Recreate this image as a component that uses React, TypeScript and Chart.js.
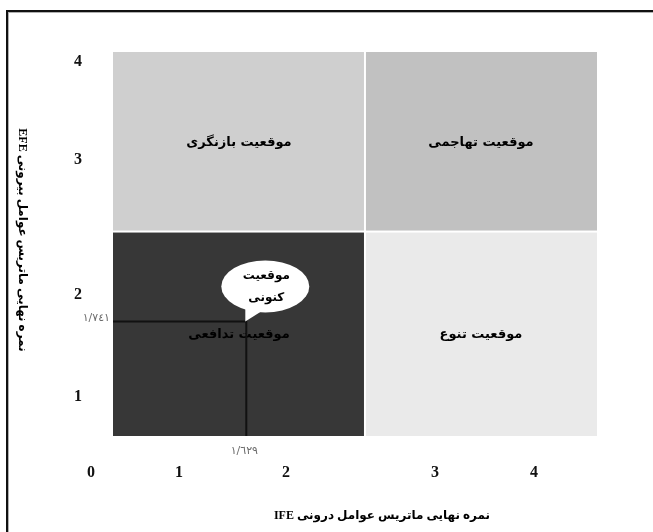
import React, { useEffect, useRef } from 'react';
import { Chart, registerables, LinearScale } from 'chart.js';

// ---- data ----
const xTickValues = [0, 1, 2, 3, 4];
const xTickLabels = ['0', '1', '2', '3', '4'];
const yTickValues = [1, 2, 3, 4];
const yTickLabels = ['1', '2', '3', '4'];
const quadrantXBounds = [0.25, 2.53, 4.64];
const quadrantYBounds = [0.62, 2.47, 4.1];
// order: top-left, top-right, bottom-left, bottom-right
const quadrantNames = ['موقعیت بازنگری', 'موقعیت تهاجمی', 'موقعیت تدافعی', 'موقعیت تنوع'];
const quadrantColors = ['#cfcfcf', '#c1c1c1', '#373737', '#eaeaea'];
const ifeScore = 1.629;
const efeScore = 1.741;
const ifeLabel = '١/٦٢٩';
const efeLabel = '١/٧٤١';
const calloutLines = ['موقعیت', 'کنونی'];
const xTitle = 'نمره نهایی ماتریس عوامل درونی IFE';
const yTitle = 'نمره نهایی ماتریس عوامل بیرونی EFE';

// ---- non-uniform (hand-drawn) axis spacing ----
const axisSpacing: Record<string, { knots: number[]; gaps: number[] }> = {
  x: { knots: [0, 1, 2, 3, 4, 4.64], gaps: [88, 107, 149, 99, 63] },
  y: { knots: [0.62, 1, 2, 3, 4, 4.1], gaps: [39, 102, 135, 98, 10] },
};

class PiecewiseScale extends LinearScale {
  static id = 'piecewise';
  static defaults = {};
  _spec() {
    return axisSpacing[(this as any).id];
  }
  _frac(v: number): number {
    const { knots, gaps } = this._spec();
    const cum = [0];
    for (const g of gaps) cum.push(cum[cum.length - 1] + g);
    const total = cum[cum.length - 1];
    let i = 0;
    if (v <= knots[0]) i = 0;
    else if (v >= knots[knots.length - 1]) i = knots.length - 2;
    else {
      while (i < knots.length - 2 && v > knots[i + 1]) i++;
    }
    const t = (v - knots[i]) / (knots[i + 1] - knots[i]);
    return (cum[i] + t * gaps[i]) / total;
  }
  getPixelForValue(value: number) {
    return (this as any).getPixelForDecimal(this._frac(value));
  }
  getValueForPixel(pixel: number) {
    const { knots, gaps } = this._spec();
    const d = (this as any).getDecimalForPixel(pixel);
    const cum = [0];
    for (const g of gaps) cum.push(cum[cum.length - 1] + g);
    const total = cum[cum.length - 1];
    const p = d * total;
    let i = 0;
    while (i < gaps.length - 1 && p > cum[i + 1]) i++;
    return knots[i] + ((p - cum[i]) / gaps[i]) * (knots[i + 1] - knots[i]);
  }
}

Chart.register(...registerables, PiecewiseScale as any);

const PERSIAN = '"DejaVu Sans", sans-serif';
const MIXED = '"Liberation Serif", "DejaVu Sans", serif';
const SERIF = '"Liberation Serif", serif';

const decorPlugin = {
  id: 'matrixDecor',
  beforeDraw(chart: any) {
    const ctx = chart.ctx;
    ctx.save();
    ctx.fillStyle = '#ffffff';
    ctx.fillRect(0, 0, chart.width, chart.height);
    ctx.fillStyle = '#111111';
    ctx.fillRect(6, 10, chart.width, 2);
    ctx.fillRect(6, 10, 2, chart.height);
    ctx.fillStyle = '#b0b0b0';
    ctx.fillRect(8, 12, chart.width, 1);
    ctx.fillRect(8, 12, 1, chart.height);
    ctx.restore();
  },
  beforeDatasetsDraw(chart: any) {
    const ctx = chart.ctx;
    const xs = chart.scales.x;
    const ys = chart.scales.y;
    const px = quadrantXBounds.map((v) => xs.getPixelForValue(v));
    const py = quadrantYBounds.map((v) => ys.getPixelForValue(v));
    const cells = [
      { x0: px[0], x1: px[1], y0: py[2], y1: py[1] },
      { x0: px[1], x1: px[2], y0: py[2], y1: py[1] },
      { x0: px[0], x1: px[1], y0: py[1], y1: py[0] },
      { x0: px[1], x1: px[2], y0: py[1], y1: py[0] },
    ];
    ctx.save();
    cells.forEach((c, i) => {
      const l = c.x0 + (i % 2 === 1 ? 1 : 0);
      const r = c.x1 - (i % 2 === 0 ? 1 : 0);
      const t = c.y0 + (i >= 2 ? 1 : 0);
      const b = c.y1 - (i < 2 ? 1 : 0);
      ctx.fillStyle = quadrantColors[i];
      ctx.fillRect(l, t, r - l, b - t);
    });
    ctx.direction = 'rtl';
    ctx.textAlign = 'center';
    ctx.textBaseline = 'middle';
    ctx.fillStyle = '#000000';
    ctx.font = `bold 13px ${PERSIAN}`;
    cells.forEach((c, i) => {
      ctx.fillText(quadrantNames[i], (c.x0 + c.x1) / 2, (c.y0 + c.y1) / 2 + 1);
    });
    ctx.restore();
  },
  afterDatasetsDraw(chart: any) {
    const ctx = chart.ctx;
    const xs = chart.scales.x;
    const ys = chart.scales.y;
    const area = chart.chartArea;
    const ax = xs.getPixelForValue(ifeScore);
    const ay = ys.getPixelForValue(efeScore);
    const boxLeft = xs.getPixelForValue(quadrantXBounds[0]);
    const boxBottom = ys.getPixelForValue(quadrantYBounds[0]);
    ctx.save();
    // callout bubble
    ctx.fillStyle = '#ffffff';
    ctx.beginPath();
    ctx.moveTo(ax - 1, ay);
    ctx.lineTo(ax - 1, ay - 18);
    ctx.lineTo(ax + 18, ay - 12);
    ctx.closePath();
    ctx.fill();
    ctx.beginPath();
    ctx.ellipse(ax + 19, ay - 35, 44, 26, 0, 0, Math.PI * 2);
    ctx.fill();
    ctx.direction = 'rtl';
    ctx.textAlign = 'center';
    ctx.textBaseline = 'middle';
    ctx.fillStyle = '#000000';
    ctx.font = `bold 12px ${PERSIAN}`;
    ctx.fillText(calloutLines[0], ax + 20, ay - 46);
    ctx.fillText(calloutLines[1], ax + 20, ay - 24);
    // value labels
    ctx.direction = 'ltr';
    ctx.fillStyle = '#6a6a6a';
    ctx.font = `11px ${PERSIAN}`;
    ctx.textAlign = 'right';
    ctx.fillText(efeLabel, boxLeft - 3, ay - 3);
    ctx.textAlign = 'center';
    ctx.fillText(ifeLabel, ax - 2, boxBottom + 15);
    // axis titles
    ctx.direction = 'rtl';
    ctx.fillStyle = '#000000';
    ctx.font = `bold 12px ${MIXED}`;
    ctx.textAlign = 'center';
    ctx.fillText(xTitle, (area.left + area.right) / 2 + 38, chart.height - 16);
    ctx.translate(22, (area.top + area.bottom) / 2 - 4);
    ctx.rotate(Math.PI / 2);
    ctx.fillText(yTitle, 0, 0);
    ctx.restore();
  },
};

export default function App() {
  const ref = useRef<HTMLCanvasElement | null>(null);
  useEffect(() => {
    if (!ref.current) return;
    const chart = new Chart(ref.current, {
      type: 'scatter',
      data: {
        datasets: [
          {
            data: [
              { x: quadrantXBounds[0], y: efeScore },
              { x: ifeScore, y: efeScore },
              { x: ifeScore, y: quadrantYBounds[0] },
            ],
            showLine: true,
            borderColor: '#111111',
            borderWidth: 2,
            pointRadius: 0,
            fill: false,
            tension: 0,
          } as any,
        ],
      },
      options: {
        animation: false,
        responsive: true,
        maintainAspectRatio: false,
        layout: { padding: { left: 0, right: 56, top: 52, bottom: 0 } },
        plugins: { legend: { display: false }, tooltip: { enabled: false } },
        scales: {
          x: {
            type: 'piecewise' as any,
            min: 0,
            max: 4.64,
            grid: { display: false, drawTicks: false },
            border: { display: false },
            afterBuildTicks: (s: any) => {
              s.ticks = xTickValues.map((v) => ({ value: v }));
            },
            afterFit: (s: any) => {
              s.height = 96;
            },
            ticks: {
              autoSkip: false,
              maxRotation: 0,
              padding: 27,
              color: '#111111',
              font: { family: SERIF, size: 16, weight: 'bold' },
              callback: (_v: any, i: number) => xTickLabels[i],
            },
          },
          y: {
            type: 'piecewise' as any,
            min: 0.62,
            max: 4.1,
            grid: { display: false, drawTicks: false },
            border: { display: false },
            afterBuildTicks: (s: any) => {
              s.ticks = yTickValues.map((v) => ({ value: v }));
            },
            afterFit: (s: any) => {
              s.width = 91;
            },
            ticks: {
              autoSkip: false,
              padding: 9,
              color: '#111111',
              font: { family: SERIF, size: 16, weight: 'bold' },
              callback: (_v: any, i: number) => yTickLabels[i],
            },
          },
        } as any,
      },
      plugins: [decorPlugin],
    });
    return () => chart.destroy();
  }, []);
  return (
    <div style={{ position: 'fixed', left: 0, top: 0, width: 653, height: 532, background: '#fff' }}>
      <canvas ref={ref} />
    </div>
  );
}
